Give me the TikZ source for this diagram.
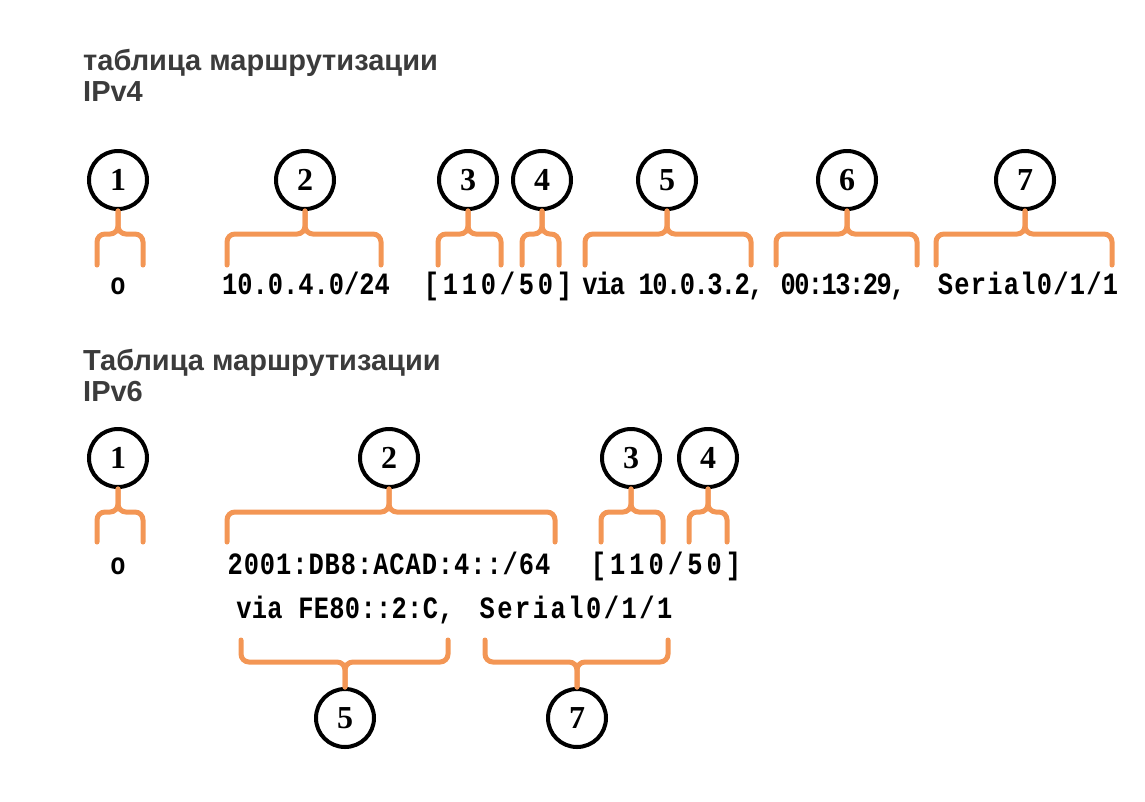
\documentclass[tikz,border=0pt]{standalone}
\usepackage{fontspec}
\setmainfont{Liberation Serif}
\newfontfamily\headfont{Liberation Sans}
\newfontfamily\codefont[FakeStretch=0.82]{Liberation Mono}
\newfontfamily\numfont{Liberation Serif}
\usetikzlibrary{positioning}
\definecolor{braceorange}{HTML}{F39655}
\definecolor{headgray}{HTML}{3B3B3B}

\tikzset{
  numcircle/.style={circle, draw, line width=4pt, minimum size=58pt, inner sep=0pt,
    font=\numfont\fontsize{32}{32}\selectfont\bfseries},
  codetext/.style={anchor=base, inner sep=0pt,
    font=\codefont\fontsize{31}{31}\selectfont\bfseries},
  headline/.style={anchor=north west, inner sep=0pt, align=left, text=headgray,
    font=\headfont\fontsize{29}{31}\selectfont\bfseries},
  bracket/.style={draw=braceorange, line width=5pt, rounded corners=8pt, line cap=round}
}

% brace from x=#2 to x=#3, bar at y=#4, tips at y=#5, stem to anchor #1
\newcommand{\tagbrace}[5]{%
  \coordinate (bh) at (0,#4);
  \draw[bracket] (#2,#5) -- (#2,#4) -- (#1 |- bh) -- (#1);
  \draw[bracket] (#3,#5) -- (#3,#4) -- (#1 |- bh) -- (#1);
}
\newcommand{\spaced}[1]{\addfontfeature{LetterSpace=#1}\relax}

\begin{document}
\begin{tikzpicture}[x=1pt, y=-1pt]
  \useasboundingbox (0,0) rectangle (1145,801);

  % IPv4
  \node[headline] (head4) at (83,49) {таблица маршрутизации\\IPv4};

  \node[numcircle] (a1) at (118,180) {1};
  \node[numcircle] (a2) at (305,180) {2};
  \node[numcircle] (a3) at (468,180) {3};
  \node[numcircle] (a4) at (542,180) {4};
  \node[numcircle] (a5) at (667,180) {5};
  \node[numcircle] (a6) at (847,180) {6};
  \node[numcircle] (a7) at (1025,180) {7};

  \node[codetext] (t1) at (118,294) {o};
  \node[codetext] (t2) at (306,294) {10.0.4.0/24};
  \node[codetext] (t3) at (498,294) {\spaced{12}[110/50]};
  \node[codetext] (t5) at (673,294) {\spaced{-5}via 10.0.3.2,};
  \node[codetext] (t6) at (843,294) {\spaced{-5}00:13:29,};
  \node[codetext] (t7) at (1028,294) {\spaced{4}Serial0/1/1};

  \tagbrace{a1.south}{97}{143}{234}{265}
  \tagbrace{a2.south}{227}{381}{234}{265}
  \tagbrace{a3.south}{438}{501}{234}{265}
  \tagbrace{a4.south}{522}{559}{234}{265}
  \tagbrace{a5.south}{585}{751}{234}{265}
  \tagbrace{a6.south}{776}{917}{234}{265}
  \tagbrace{a7.south}{936}{1112}{234}{265}

  % IPv6
  \node[headline] (head6) at (83,349) {Таблица маршрутизации\\IPv6};

  \node[numcircle] (b1) at (118,458) {1};
  \node[numcircle] (b2) at (389,458) {2};
  \node[numcircle] (b3) at (631,458) {3};
  \node[numcircle] (b4) at (708,458) {4};
  \node[numcircle] (b5) at (345,718) {5};
  \node[numcircle] (b7) at (577,718) {7};

  \node[codetext] (u1) at (118,574) {o};
  \node[codetext] (u2) at (389,574) {\spaced{3}2001:DB8:ACAD:4::/64};
  \node[codetext] (u3) at (666,574) {\spaced{13}[110/50]};
  \node[codetext] (u5) at (345,618) {\spaced{1}via FE80::2:C,};
  \node[codetext] (u7) at (576,618) {\spaced{8}Serial0/1/1};

  \tagbrace{b1.south}{97}{143}{512}{542}
  \tagbrace{b2.south}{227}{555}{512}{542}
  \tagbrace{b3.south}{601}{663}{512}{542}
  \tagbrace{b4.south}{689}{727}{512}{542}
  \tagbrace{b5.north}{241}{448}{662}{640}
  \tagbrace{b7.north}{485}{668}{662}{640}
\end{tikzpicture}
\end{document}
